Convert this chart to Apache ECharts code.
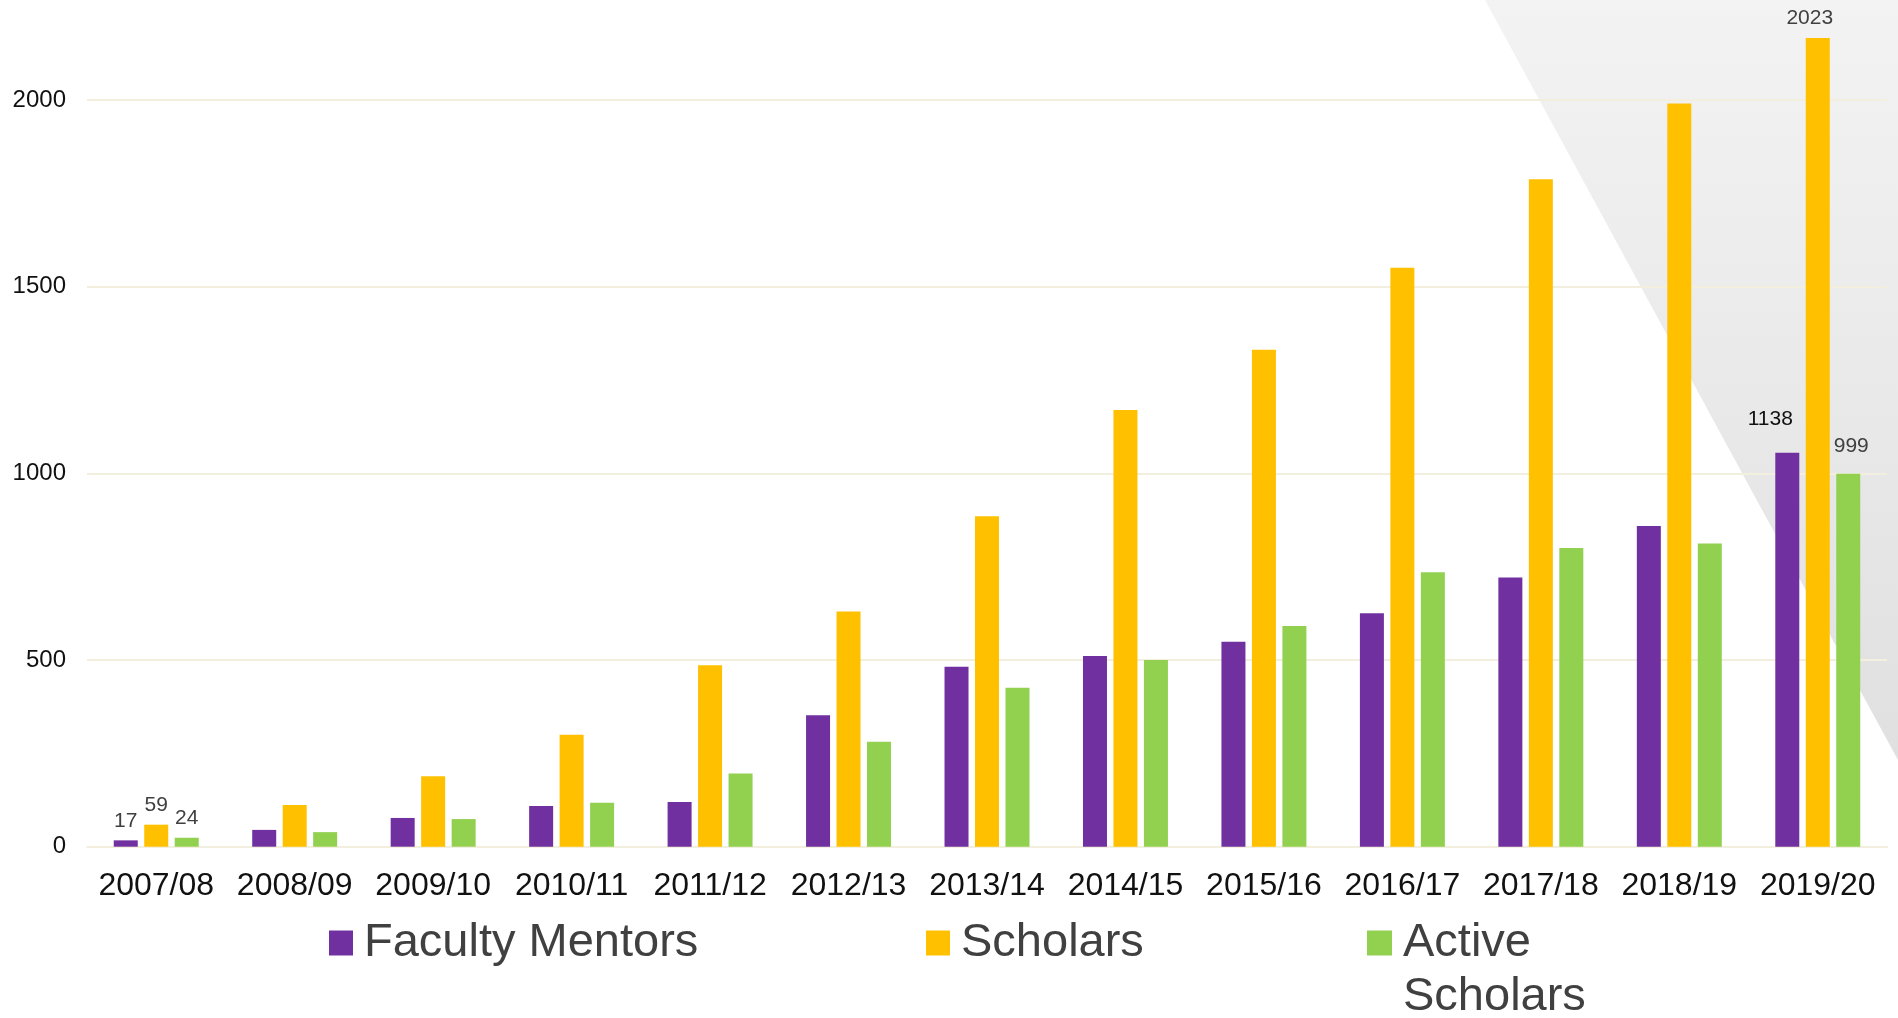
<!DOCTYPE html>
<html>
<head>
<meta charset="utf-8">
<script src="https://cdn.jsdelivr.net/npm/echarts@6/dist/echarts.min.js"></script>
<style>
html,body{margin:0;padding:0;background:#fff;}
#chart{width:1898px;height:1018px;}
</style>
</head>
<body>
<div id="chart"></div>
<script>
const categories = ['2007/08','2008/09','2009/10','2010/11','2011/12','2012/13','2013/14','2014/15','2015/16','2016/17','2017/18','2018/19','2019/20'];
const facultyMentors = [17, 45, 77, 109, 120, 352, 482, 511, 549, 625, 721, 859, 1055];
const scholars = [59, 112, 189, 300, 486, 630, 885, 1170, 1331, 1551, 1788, 1991, 2166];
const activeScholars = [24, 39, 74, 118, 196, 281, 426, 500, 591, 735, 800, 812, 999];
// data labels shown in the reference (null = none)
const facultyLabels = [17, null, null, null, null, null, null, null, null, null, null, null, 1138];
const scholarLabels = [59, null, null, null, null, null, null, null, null, null, null, null, 2023];
const activeLabels = [24, null, null, null, null, null, null, null, null, null, null, null, 999];
const yTicks = [0, 500, 1000, 1500, 2000];

const FONT = '"Liberation Sans", Arial, Helvetica, sans-serif';

function buildData(values, labels, lastStyle) {
  return values.map((v, i) => {
    const item = { value: v };
    if (labels[i] != null) {
      item.label = Object.assign({
        show: true,
        position: 'top',
        distance: 9,
        formatter: String(labels[i]),
        fontSize: 21,
        fontFamily: FONT,
        color: '#404040'
      }, i === values.length - 1 ? lastStyle : {});
    }
    return item;
  });
}

const chart = echarts.init(document.getElementById('chart'), null, { renderer: 'canvas' });

const legendText = { fontSize: 47, fontFamily: FONT, color: '#404040', lineHeight: 54, padding: [0, 0, 0, 6] };

chart.setOption({
  backgroundColor: '#ffffff',
  animation: false,
  graphic: [{
    type: 'polygon',
    z: -10,
    silent: true,
    shape: { points: [[1485, 0], [1898, 0], [1898, 760]] },
    style: {
      fill: {
        type: 'linear', x: 0, y: 0, x2: 0, y2: 1,
        colorStops: [{ offset: 0, color: '#f3f3f3' }, { offset: 1, color: '#e0e0e0' }]
      }
    }
  }],
  grid: { left: 87, right: 11, top: 0, bottom: 171.3, containLabel: false },
  legend: [
    {
      data: ['Faculty Mentors'], left: 329, top: 916, padding: 0,
      icon: 'rect', itemWidth: 24, itemHeight: 25, selectedMode: false,
      textStyle: legendText
    },
    {
      data: ['Scholars'], left: 926, top: 916, padding: 0,
      icon: 'rect', itemWidth: 24, itemHeight: 25, selectedMode: false,
      textStyle: legendText
    },
    {
      data: ['Active Scholars'], left: 1367, top: 862, padding: 0,
      icon: 'rect', itemWidth: 25, itemHeight: 25, selectedMode: false,
      formatter: '\nActive\nScholars',
      textStyle: legendText
    }
  ],
  xAxis: {
    type: 'category',
    data: categories,
    axisLine: { show: true, lineStyle: { color: '#F2EFDF', width: 2 } },
    axisTick: { show: false },
    axisLabel: { fontSize: 32, fontFamily: FONT, color: '#111111', margin: 23, interval: 0 }
  },
  yAxis: {
    type: 'value',
    min: 0,
    max: 2268,
    interval: 500,
    axisLine: { show: false },
    axisTick: { show: false },
    splitLine: { show: true, showMaxLine: false, lineStyle: { color: '#F2EFDF', width: 2 } },
    axisLabel: {
      fontSize: 24, fontFamily: FONT, color: '#111111', margin: 21, showMaxLabel: false,
      formatter: v => (yTicks.indexOf(v) >= 0 ? String(v) : '')
    }
  },
  series: [
    {
      name: 'Faculty Mentors', type: 'bar', barWidth: 24, barGap: '27%',
      itemStyle: { color: '#7030A0' },
      data: buildData(facultyMentors, facultyLabels, { color: '#111111', fontSize: 21, offset: [-17, -14] })
    },
    {
      name: 'Scholars', type: 'bar', barWidth: 24, barGap: '27%',
      itemStyle: { color: '#FFC000' },
      data: buildData(scholars, scholarLabels, { offset: [-8, 0] })
    },
    {
      name: 'Active Scholars', type: 'bar', barWidth: 24, barGap: '27%',
      itemStyle: { color: '#92D050' },
      data: buildData(activeScholars, activeLabels, { offset: [3, -8] })
    }
  ]
});
</script>
</body>
</html>
